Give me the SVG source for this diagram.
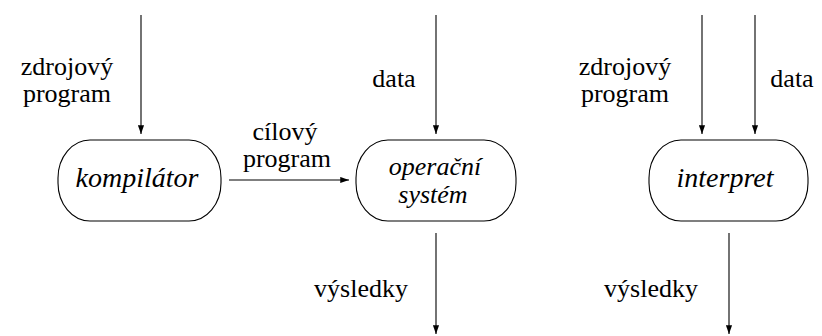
<svg xmlns="http://www.w3.org/2000/svg" width="822" height="336" viewBox="0 0 822 336">
<defs>
<marker id="ah" viewBox="0 0 10 8" refX="10" refY="4" markerWidth="9" markerHeight="7" markerUnits="userSpaceOnUse" orient="auto">
<path d="M0,0.5 L10,4 L0,7.5 Z" fill="#000"/>
</marker>
</defs>
<rect width="822" height="336" fill="#fff"/>
<g id="connectors" stroke="#000" stroke-width="1.1">
<line x1="141" y1="15" x2="141" y2="134" marker-end="url(#ah)"/>
<line x1="229" y1="180" x2="349" y2="180" marker-end="url(#ah)"/>
<line x1="436" y1="15" x2="436" y2="134" marker-end="url(#ah)"/>
<line x1="436" y1="233" x2="436" y2="334" marker-end="url(#ah)"/>
<line x1="702" y1="15" x2="702" y2="134" marker-end="url(#ah)"/>
<line x1="755" y1="15" x2="755" y2="134" marker-end="url(#ah)"/>
<line x1="729" y1="233" x2="729" y2="334" marker-end="url(#ah)"/>
</g>
<g id="labels" font-family="Liberation Serif, Times New Roman, serif" font-size="26" text-anchor="middle">
<text x="67" y="75">zdrojový</text>
<text x="67" y="102">program</text>
<text x="285" y="140">cílový</text>
<text x="287" y="167">program</text>
<text x="394" y="87">data</text>
<text x="361" y="297">výsledky</text>
<text x="625" y="75">zdrojový</text>
<text x="625" y="102">program</text>
<text x="792" y="87">data</text>
<text x="651" y="297">výsledky</text>
</g>
<g id="kompilator">
<rect x="58" y="140" width="163" height="81" rx="32" ry="38" fill="#fff" stroke="#000" stroke-width="1.1"/>
<text x="137" y="187" font-family="Liberation Serif, Times New Roman, serif" font-size="28" font-style="italic" text-anchor="middle">kompilátor</text>
</g>
<g id="operacni-system">
<rect x="356" y="140" width="160" height="81" rx="32" ry="38" fill="#fff" stroke="#000" stroke-width="1.1"/>
<text x="435" y="175" font-family="Liberation Serif, Times New Roman, serif" font-size="26" font-style="italic" text-anchor="middle">operační</text>
<text x="433" y="203" font-family="Liberation Serif, Times New Roman, serif" font-size="26" font-style="italic" text-anchor="middle">systém</text>
</g>
<g id="interpret">
<rect x="649" y="140" width="159" height="81" rx="32" ry="38" fill="#fff" stroke="#000" stroke-width="1.1"/>
<text x="725" y="187" font-family="Liberation Serif, Times New Roman, serif" font-size="28" font-style="italic" text-anchor="middle">interpret</text>
</g>
</svg>
